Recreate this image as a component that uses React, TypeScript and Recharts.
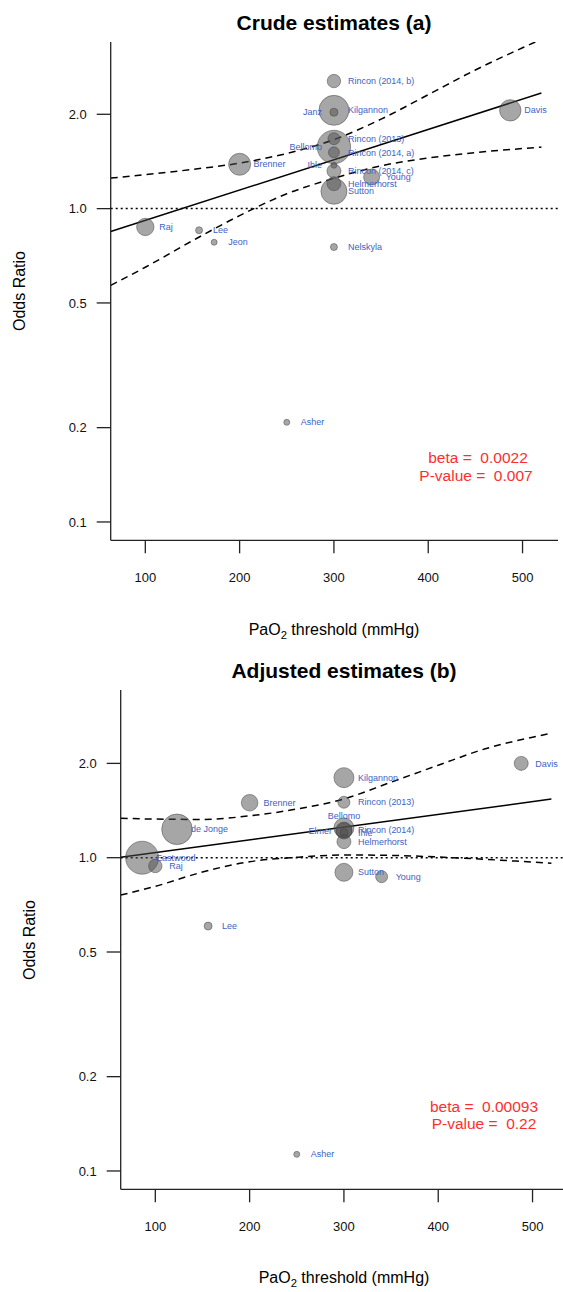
import React from 'react';
import { ComposedChart, Scatter, Line, XAxis, YAxis, ReferenceLine } from 'recharts';

const FONT = '"Liberation Sans", Arial, Helvetica, sans-serif';

// shared axes
const xTicks = [100, 200, 300, 400, 500];
const yTicks = [0.1, 0.2, 0.5, 1.0, 2.0];
const xDomain = [63.3, 537.6];

// ---------- Crude estimates (a) ----------
const crudeNames = ['Raj', 'Lee', 'Jeon', 'Brenner', 'Asher', 'Rincon (2014, b)', 'Kilgannon', 'Janz', 'Bellomo', 'Rincon (2013)', 'Rincon (2014, a)', 'Ible', 'Rincon (2014, c)', 'Helmerhorst', 'Sutton', 'Young', 'Davis', 'Nelskyla'];
const crudeThreshold = [100, 157, 173, 200, 250, 300, 300, 300, 300, 300, 300, 300, 300, 300, 300, 340, 487, 300];
const crudeOR = [0.874, 0.853, 0.781, 1.385, 0.208, 2.553, 2.059, 2.03, 1.573, 1.672, 1.512, 1.375, 1.318, 1.201, 1.136, 1.261, 2.059, 0.754];
const crudeWeight = [8.7, 3.5, 3, 11, 3, 6.7, 15, 4, 16.7, 6, 5.5, 3, 7, 7, 13, 8, 10.7, 3.5];
const crudeFitX = [63.3, 520];
const crudeFitOR = [0.845, 2.338];
const bandX = [63.3, 100, 150, 200, 250, 300, 350, 400, 450, 500, 520];
const crudeUpper = [1.252, 1.283, 1.334, 1.397, 1.5, 1.66, 1.93, 2.31, 2.77, 3.26, 3.47];
const crudeLower = [0.569, 0.65, 0.79, 0.95, 1.115, 1.25, 1.37, 1.45, 1.51, 1.555, 1.572];

// ---------- Adjusted estimates (b) ----------
const adjNames = ['Eastwood', 'Raj', 'de Jonge', 'Lee', 'Brenner', 'Asher', 'Kilgannon', 'Rincon (2013)', 'Bellomo', 'Elmer', 'Rincon (2014)', 'Ihle', 'Helmerhorst', 'Sutton', 'Young', 'Davis'];
const adjThreshold = [86, 100, 123, 156, 200, 250, 300, 300, 300, 300, 300, 300, 300, 300, 340, 488];
const adjOR = [1.0, 0.941, 1.232, 0.605, 1.498, 0.113, 1.801, 1.503, 1.245, 1.217, 1.225, 1.202, 1.125, 0.898, 0.87, 2.0];
const adjWeight = [16.5, 6.7, 15.3, 4, 8.3, 3, 10, 6, 10, 8, 8, 4, 7, 9, 6, 7];
const adjFitX = [63.3, 520];
const adjFitOR = [1.003, 1.539];
const adjUpper = [1.336, 1.328, 1.325, 1.36, 1.43, 1.54, 1.742, 1.973, 2.227, 2.425, 2.496];
const adjLower = [0.76, 0.81, 0.9, 0.971, 1.003, 1.02, 1.017, 1.005, 0.988, 0.968, 0.96];

// label placement (style only)
const crudeSides: Record<string, string> = { Janz: 'left', Bellomo: 'left', Ible: 'left' };
const adjSides: Record<string, string> = { Bellomo: 'top', Elmer: 'left' };

const toPts = (names: string[], xs: number[], ors: number[], ws: number[]) =>
  names.map((n, i) => ({ name: n, x: xs[i], or: ors[i], w: ws[i] }));
const toLine = (xs: number[], ors: number[]) => xs.map((x, i) => ({ x, or: ors[i] }));

const bubble = (props: any) => {
  const { cx, cy, payload } = props;
  if (cx == null || cy == null) return <g />;
  return (
    <circle cx={cx} cy={cy} r={payload.w} fill="#4d4d4d" fillOpacity={0.5} stroke="#444" strokeOpacity={0.5} strokeWidth={1} />
  );
};

const makeLabel = (sides: Record<string, string>) => (props: any) => {
  const { cx, cy, payload } = props;
  if (cx == null || cy == null) return <g />;
  const side = sides[payload.name] || 'right';
  let x = cx + 14;
  let y = cy;
  let anchor: any = 'start';
  if (side === 'left') { x = cx - 12; anchor = 'end'; }
  if (side === 'top') { x = cx; y = cy - 12; anchor = 'middle'; }
  return (
    <text x={x} y={y} dy="0.35em" textAnchor={anchor} fontSize={9} fill="#3d62c4" fontFamily={FONT}>
      {payload.name}
    </text>
  );
};

const Txt = ({ x, y, children, style }: any) => (
  <div
    style={{
      position: 'absolute', left: x, top: y, transform: 'translate(-50%, -50%)',
      whiteSpace: 'pre', fontFamily: FONT, lineHeight: 1, ...style,
    }}
  >
    {children}
  </div>
);

const Panel = ({ width, height, left, yTop, pts, fit, upper, lower, sides }: any) => (
  <ComposedChart width={width} height={height} margin={{ top: 0, right: 5, bottom: 10, left }}>
    <XAxis
      type="number" dataKey="x" domain={xDomain} ticks={xTicks} allowDataOverflow interval={0}
      height={50} tickSize={13} tickMargin={19} stroke="#222" strokeWidth={1.3}
      tick={{ fill: '#111', fontSize: 13, fontFamily: FONT }}
    />
    <YAxis
      type="number" dataKey="or" scale="log" domain={[0.0874, yTop]} ticks={yTicks} allowDataOverflow interval={0}
      width={60} tickSize={14} tickMargin={10} stroke="#222" strokeWidth={1.3}
      tickFormatter={(v: number) => v.toFixed(1)}
      tick={{ fill: '#111', fontSize: 13, fontFamily: FONT }}
    />
    <ReferenceLine y={1} stroke="#000" strokeWidth={1.5} strokeDasharray="2 3" />
    <Scatter data={pts} shape={bubble} isAnimationActive={false} />
    <Line data={fit} dataKey="or" type="linear" stroke="#000" strokeWidth={1.5} dot={false} activeDot={false} isAnimationActive={false} />
    <Line data={upper} dataKey="or" type="monotone" stroke="#000" strokeWidth={1.5} strokeDasharray="7 5" dot={false} activeDot={false} isAnimationActive={false} />
    <Line data={lower} dataKey="or" type="monotone" stroke="#000" strokeWidth={1.5} strokeDasharray="7 5" dot={false} activeDot={false} isAnimationActive={false} />
    <Scatter data={pts} shape={makeLabel(sides)} isAnimationActive={false} />
  </ComposedChart>
);

export default function App() {
  const crudePts = toPts(crudeNames, crudeThreshold, crudeOR, crudeWeight);
  const adjPts = toPts(adjNames, adjThreshold, adjOR, adjWeight);
  const red = { color: '#ff2e2e', fontSize: 15.5 };
  const title = { fontWeight: 'bold', fontSize: 21, color: '#000' };
  const axisTitle = { fontSize: 16, color: '#000' };
  return (
    <div style={{ position: 'absolute', left: 0, top: 0, width: 563, height: 1292, overflow: 'hidden', background: '#fff' }}>
      <div style={{ position: 'absolute', left: 0, top: 41.7 }}>
        <Panel width={563} height={558.3} left={50.7} yTop={3.402} pts={crudePts}
          fit={toLine(crudeFitX, crudeFitOR)} upper={toLine(bandX, crudeUpper)} lower={toLine(bandX, crudeLower)} sides={crudeSides} />
      </div>
      <div style={{ position: 'absolute', left: 0, top: 690 }}>
        <Panel width={573} height={559.3} left={60.7} yTop={3.43} pts={adjPts}
          fit={toLine(adjFitX, adjFitOR)} upper={toLine(bandX, adjUpper)} lower={toLine(bandX, adjLower)} sides={adjSides} />
      </div>

      <Txt x={334} y={22} style={title}>Crude estimates (a)</Txt>
      <Txt x={334} y={632} style={axisTitle}>PaO<sub style={{ fontSize: '0.7em' }}>2</sub> threshold (mmHg)</Txt>
      <Txt x={20} y={291} style={{ ...axisTitle, transform: 'translate(-50%, -50%) rotate(-90deg)' }}>Odds Ratio</Txt>
      <Txt x={478} y={458} style={red}>beta =  0.0022</Txt>
      <Txt x={476} y={476} style={red}>P-value =  0.007</Txt>

      <Txt x={344} y={670} style={title}>Adjusted estimates (b)</Txt>
      <Txt x={344} y={1280} style={axisTitle}>PaO<sub style={{ fontSize: '0.7em' }}>2</sub> threshold (mmHg)</Txt>
      <Txt x={30} y={940} style={{ ...axisTitle, transform: 'translate(-50%, -50%) rotate(-90deg)' }}>Odds Ratio</Txt>
      <Txt x={484} y={1107} style={red}>beta =  0.00093</Txt>
      <Txt x={484} y={1124} style={red}>P-value =  0.22</Txt>
    </div>
  );
}
